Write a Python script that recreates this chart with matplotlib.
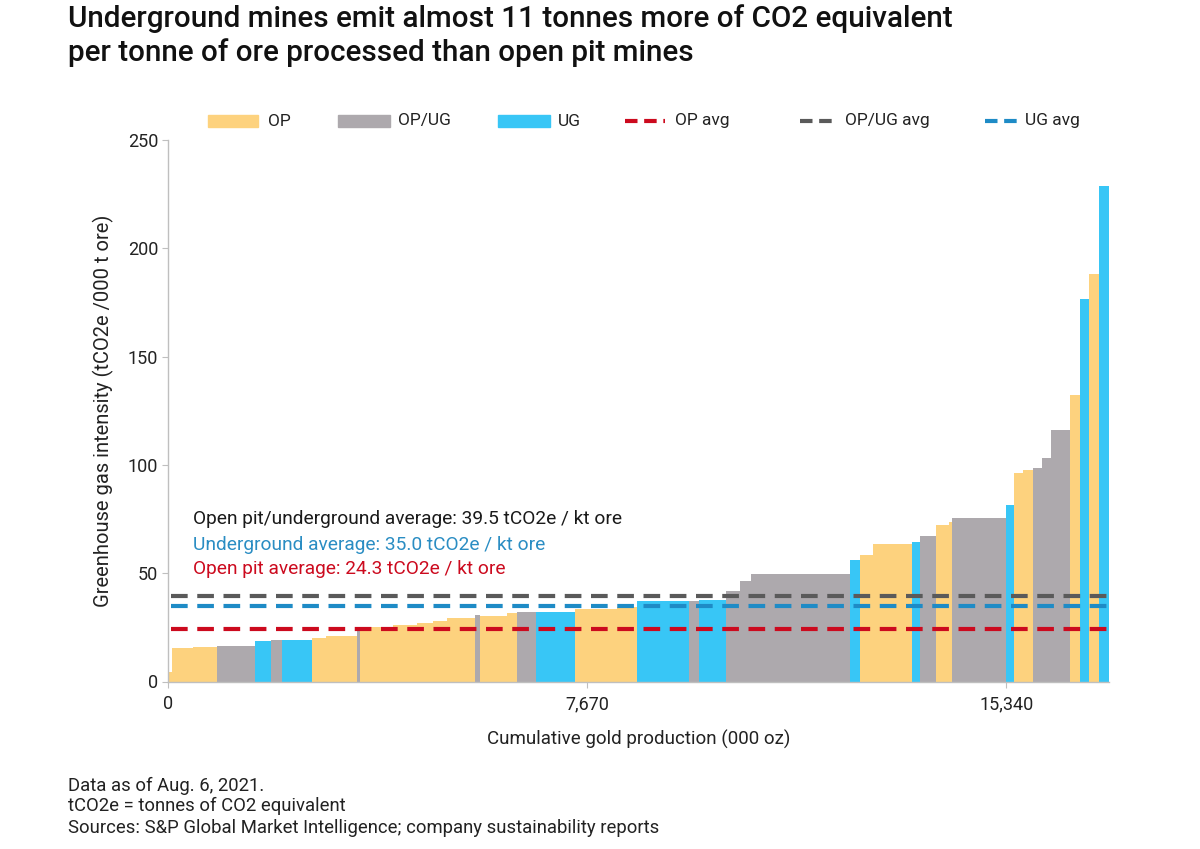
import numpy as np
import matplotlib
matplotlib.use("Agg")
import matplotlib.pyplot as plt
from matplotlib.patches import Rectangle
from matplotlib.lines import Line2D

# ---- data ----
mine_types = ["OP", "OP", "OP", "OP/UG", "UG", "OP/UG", "UG", "OP", "OP", "OP/UG",
              "OP", "OP", "OP", "OP", "OP", "OP/UG", "OP", "OP", "OP/UG", "UG",
              "OP", "OP", "UG", "OP/UG", "UG", "OP/UG", "OP/UG", "OP/UG", "UG", "OP",
              "OP", "UG", "OP/UG", "OP", "OP", "OP/UG", "UG", "OP", "OP", "OP/UG",
              "OP/UG", "OP/UG", "OP", "UG", "OP", "UG"]
production = [68, 395, 428, 701, 293, 196, 549, 262, 558, 64,
              604, 439, 293, 256, 513, 92, 489, 183, 353, 714,
              763, 377, 952, 183, 489, 256, 201, 1812, 183, 243,
              703, 152, 287, 249, 44, 988, 157, 165, 172, 165,
              170, 348, 183, 170, 183, 165]
intensity = [4.5, 15.3, 16.0, 16.4, 18.8, 19.3, 19.3, 19.9, 20.8, 24.6,
             25.3, 26.1, 26.9, 28.0, 29.5, 30.5, 30.4, 31.6, 32.3, 32.3,
             33.5, 34.2, 37.0, 37.3, 37.8, 41.9, 46.2, 49.5, 55.9, 58.2,
             63.3, 64.4, 67.0, 72.4, 73.5, 75.5, 81.7, 96.3, 97.8, 98.6,
             103.2, 116.3, 132.2, 176.7, 188.3, 228.7]
avg_labels = ["OP avg", "OP/UG avg", "UG avg"]
avg_values = [24.3, 39.5, 35.0]
x_ticks = [0, 7670, 15340]
x_tick_labels = ["0", "7,670", "15,340"]
y_ticks = [0, 50, 100, 150, 200, 250]

colors = {"OP": "#FDD27E", "OP/UG": "#ADA9AD", "UG": "#38C6F6"}
avg_colors = {"OP avg": "#CC0A1E", "OP/UG avg": "#5A5A5A", "UG avg": "#1E8BC6"}

FONT = "Roboto"
plt.rcParams["font.family"] = [FONT, "DejaVu Sans"]

fig = plt.figure(figsize=(12, 8.49), dpi=100)
ax = fig.add_axes([168/1200, 1-681.5/849, (1108.5-168)/1200, (681.5-140)/849])

prod = np.array(production, dtype=float)
lefts = np.concatenate([[0], np.cumsum(prod)[:-1]])
total = prod.sum()
ax.bar(lefts, intensity, width=prod, align="edge",
       color=[colors[t] for t in mine_types], linewidth=0, zorder=2)

for lab, val in zip(avg_labels, avg_values):
    ax.plot([0.003*total, total], [val, val], color=avg_colors[lab], lw=3,
            dashes=(4, 2.3), zorder=3, solid_capstyle="butt", dash_capstyle="butt")

ax.set_xlim(0, total)
ax.set_ylim(0, 250)
ax.set_xticks(x_ticks)
ax.set_xticklabels(x_tick_labels)
ax.set_yticks(y_ticks)
for s in ["top", "right"]:
    ax.spines[s].set_visible(False)
for s in ["left", "bottom"]:
    ax.spines[s].set_color("#BFBFBF")
    ax.spines[s].set_linewidth(1)
ax.tick_params(axis="both", colors="#BFBFBF", labelcolor="#222222", labelsize=13, length=4)
ax.tick_params(axis="y", pad=3)
ax.tick_params(axis="x", pad=6)
ax.set_xlabel("Cumulative gold production (000 oz)", fontsize=13.5, color="#222222", labelpad=12)
ax.set_ylabel("Greenhouse gas intensity (tCO2e /000 t ore)", fontsize=14.5, color="#222222", labelpad=10)

# annotations
ann_fs = 13.8
ax.text(0.027, 0.301, "Open pit/underground average: 39.5 tCO2e / kt ore", transform=ax.transAxes,
        fontsize=ann_fs, color="#1A1A1A", va="center")
ax.text(0.027, 0.253, "Underground average: 35.0 tCO2e / kt ore", transform=ax.transAxes,
        fontsize=ann_fs, color="#2A8DC3", va="center")
ax.text(0.027, 0.207, "Open pit average: 24.3 tCO2e / kt ore", transform=ax.transAxes,
        fontsize=ann_fs, color="#CC0A1E", va="center")

# title
fig.text(68/1200, 1-19/849, "Underground mines emit almost 11 tonnes more of CO2 equivalent",
         fontsize=21.3, fontweight="medium", color="#111111", va="center")
fig.text(68/1200, 1-53/849, "per tonne of ore processed than open pit mines",
         fontsize=21.3, fontweight="medium", color="#111111", va="center")

# legend (manual)
ly = 1-121/849
patch_items = [("OP", 208, 258, 268), ("OP/UG", 338, 390, 398), ("UG", 498, 550, 558)]
for name, x0, x1, tx in patch_items:
    fig.patches.append(Rectangle((x0/1200, ly-6/849), (x1-x0)/1200, 12/849,
                                 transform=fig.transFigure, color=colors[name]))
    fig.text(tx/1200, ly, name, fontsize=12.5, color="#222222", va="center")
line_items = [("OP avg", 625, 665, 675), ("OP/UG avg", 800, 838, 845), ("UG avg", 985, 1017, 1025)]
for name, x0, x1, tx in line_items:
    fig.lines.append(Line2D([x0/1200, x1/1200], [ly, ly], transform=fig.transFigure,
                            color=avg_colors[name], lw=3, dashes=(3, 1.6)))
    fig.text(tx/1200, ly, name, fontsize=12.5, color="#222222", va="center")

# footnotes
fn_fs = 13.3
fig.text(68/1200, 1-786/849, "Data as of Aug. 6, 2021.", fontsize=fn_fs, color="#222222", va="center")
fig.text(68/1200, 1-806/849, "tCO2e = tonnes of CO2 equivalent", fontsize=fn_fs, color="#222222", va="center")
fig.text(68/1200, 1-828/849, "Sources: S&P Global Market Intelligence; company sustainability reports",
         fontsize=fn_fs, color="#222222", va="center")

fig.savefig("out.png", dpi=100, facecolor="white")
